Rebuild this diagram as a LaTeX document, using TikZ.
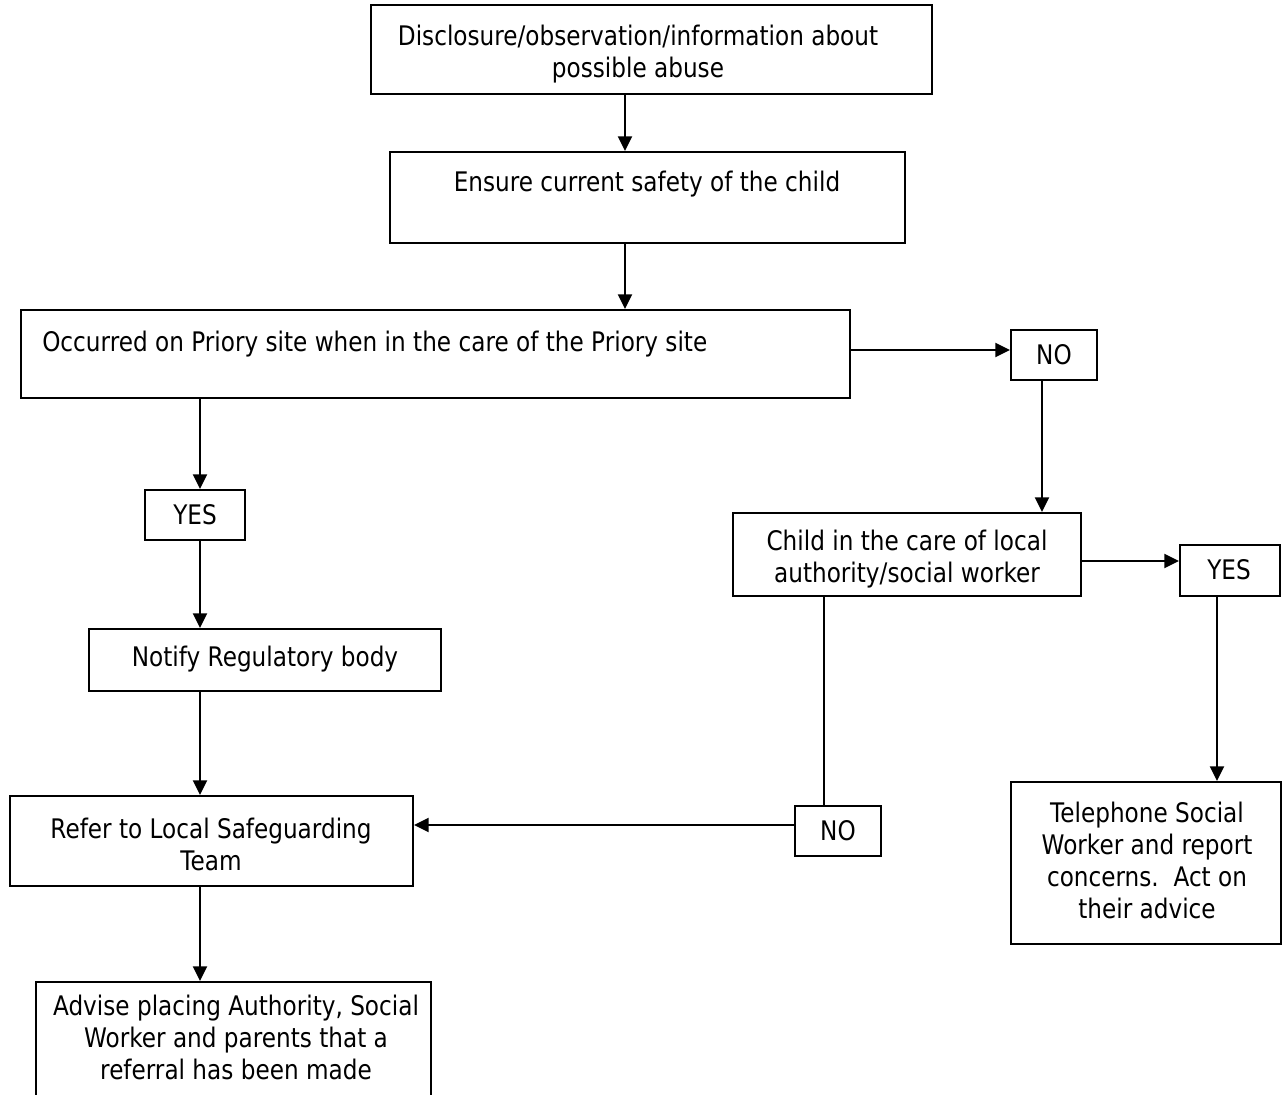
\documentclass[tikz,border=0pt]{standalone}
\usepackage{fontspec}
\setmainfont{DejaVu Sans}[FakeStretch=0.86]
\usetikzlibrary{arrows.meta}
\begin{document}
\begin{tikzpicture}[x=0.75pt,y=-0.75pt,
  box/.style 2 args={draw, line width=1.5pt, minimum width=#1*0.75pt, minimum height=#2*0.75pt, inner sep=0pt},
  txt/.style={font=\fontsize{20.2}{24}\selectfont, align=center, text height=14.5pt, text depth=0pt, inner sep=0pt},
  arr/.style={line width=1.5pt, -{Triangle[length=11pt,width=10.5pt]}},
  ln/.style={line width=1.5pt}]
\useasboundingbox (0,0) rectangle (1282,1095);
\clip (0,0) rectangle (1282,1095);
% boxes
\node[box={561}{89}]  (b1)   at (651.5,49.5) {};
\node[box={515}{91}]  (b2)   at (647.5,197.5) {};
\node[box={829}{88}]  (b3)   at (435.5,354) {};
\node[box={86}{50}]   (no1)  at (1054,355) {};
\node[box={100}{50}]  (yes1) at (195,515) {};
\node[box={348}{83}]  (b6)   at (907,554.5) {};
\node[box={100}{51}]  (yes2) at (1230,570.5) {};
\node[box={352}{62}]  (b8)   at (265,660) {};
\node[box={403}{90}]  (b9)   at (211.5,841) {};
\node[box={86}{50}]   (no2)  at (838,831) {};
\node[box={270}{162}] (b11)  at (1146,863) {};
\node[box={395}{128}] (b12)  at (233.5,1046) {};
% texts (multi-line nodes: placed by their last line)
\node[txt] (t1) at (638,68) {Disclosure/observation/information about\\possible abuse};
\node[txt] (t2) at (647,182) {Ensure current safety of the child};
\node[txt, anchor=west] (t3) at (42,342) {Occurred on Priory site when in the care of the Priory site};
\node[txt] (tno1) at (1054,355) {NO};
\node[txt] (tyes1) at (195,515) {YES};
\node[txt] (t6) at (907,573) {Child in the care of local\\authority/social worker};
\node[txt] (tyes2) at (1229,570) {YES};
\node[txt] (t8) at (265,657) {Notify Regulatory body};
\node[txt] (t9) at (211,861) {Refer to Local Safeguarding\\Team};
\node[txt] (tno2) at (838,831) {NO};
\node[txt] (t11) at (1147,909) {Telephone Social\\Worker and report\\concerns.\ \ Act on\\their advice};
\node[txt] (t12) at (236,1070) {Advise placing Authority, Social\\Worker and parents that a\\referral has been made};
% columns and rows
\coordinate (c1) at (625,0);
\coordinate (c2) at (200,0);
\coordinate (c3) at (1042,0);
\coordinate (c4) at (1217,0);
\coordinate (c5) at (824,0);
\coordinate (r0) at (0,350);
\coordinate (r1) at (0,561);
\coordinate (r2) at (0,825);
% connectors
\draw[arr] (b1.south -| c1) -- (b2.north -| c1);
\draw[arr] (b2.south -| c1) -- (b3.north -| c1);
\draw[arr] (b3.east |- r0) -- (no1.west |- r0);
\draw[arr] (no1.south -| c3) -- (b6.north -| c3);
\draw[arr] (b3.south -| c2) -- (yes1.north -| c2);
\draw[arr] (yes1.south -| c2) -- (b8.north -| c2);
\draw[arr] (b8.south -| c2) -- (b9.north -| c2);
\draw[arr] (b9.south -| c2) -- (b12.north -| c2);
\draw[arr] (b6.east |- r1) -- (yes2.west |- r1);
\draw[arr] (yes2.south -| c4) -- (b11.north -| c4);
\draw[ln] (b6.south -| c5) -- (no2.north -| c5);
\draw[arr] (no2.west |- r2) -- (b9.east |- r2);
\end{tikzpicture}
\end{document}
